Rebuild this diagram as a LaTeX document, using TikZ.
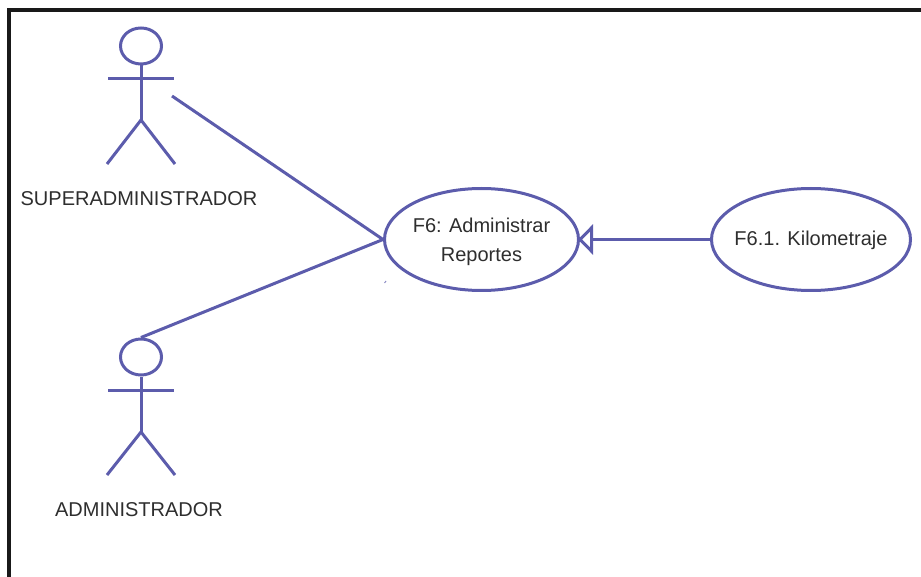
\documentclass[tikz,border=0pt]{standalone}
\usepackage{fontspec}
\setmainfont{Liberation Sans}
\usetikzlibrary{shapes.geometric,arrows.meta}
\definecolor{uml}{HTML}{5C5CAC}
\definecolor{ink}{HTML}{2E2E2E}
\tikzset{
  limb/.style={draw=uml,line width=3pt},
  head/.style={ellipse,draw=uml,line width=3pt,minimum width=41pt,minimum height=36pt,inner sep=0pt},
  usecase/.style={ellipse,draw=uml,line width=3pt,minimum height=102pt,inner sep=0pt,inner xsep=-40pt,align=center,text=ink,font=\fontsize{20pt}{28.5pt}\selectfont},
  actorname/.style={text=ink,inner sep=0pt,font=\fontsize{20pt}{24pt}\selectfont},
  frameline/.style={draw=black!90,line width=4pt}
}
\begin{document}
\begin{tikzpicture}[x=1pt,y=-1pt]
\useasboundingbox (0,0) rectangle (921,577);
\draw[frameline] (9,577) -- (9,10) -- (921,10);
% actor 1
\node[head] (h1) at (141,46) {};
\coordinate (hip1) at (141,120);
\coordinate (al1) at (108,79);
\coordinate (ar1) at (174,79);
\coordinate (fl1) at (107,164);
\coordinate (fr1) at (175,164);
\draw[limb] (h1.south) -- (hip1);
\draw[limb] (al1) -- (ar1);
\draw[limb] (fl1) -- (hip1) -- (fr1);
\node[actorname] (n1) at (139,199) {SUPERADMINISTRADOR};
% actor 2
\node[head] (h2) at (141,357) {};
\coordinate (hip2) at (141,432);
\coordinate (al2) at (108,390);
\coordinate (ar2) at (174,390);
\coordinate (fl2) at (107,475);
\coordinate (fr2) at (175,475);
\draw[limb] (h2.south) -- (hip2);
\draw[limb] (al2) -- (ar2);
\draw[limb] (fl2) -- (hip2) -- (fr2);
\node[actorname] (n2) at (139,510) {ADMINISTRADOR};
% use cases
\node[usecase,minimum width=194pt] (f6) at (481.5,239.5) {\rule{0pt}{19pt}F6: Administrar\\Reportes};
\node[usecase,minimum width=199pt] (f61) at (811,239.5) {\rule{0pt}{17pt}F6.1. Kilometraje};
% connectors
\coordinate (s1) at (172,96);
\draw[limb] (s1) -- (f6.west);
\draw[limb] (h2.north) -- (f6.west);
\draw[limb,shorten >=-2pt,-{Triangle[open,length=15pt,width=30pt,line width=3pt]}] (f61.west) -- (f6.east);
% stray mark
\draw[draw=uml!70,line width=1pt] (384.5,283) -- (386,281);
\end{tikzpicture}
\end{document}
